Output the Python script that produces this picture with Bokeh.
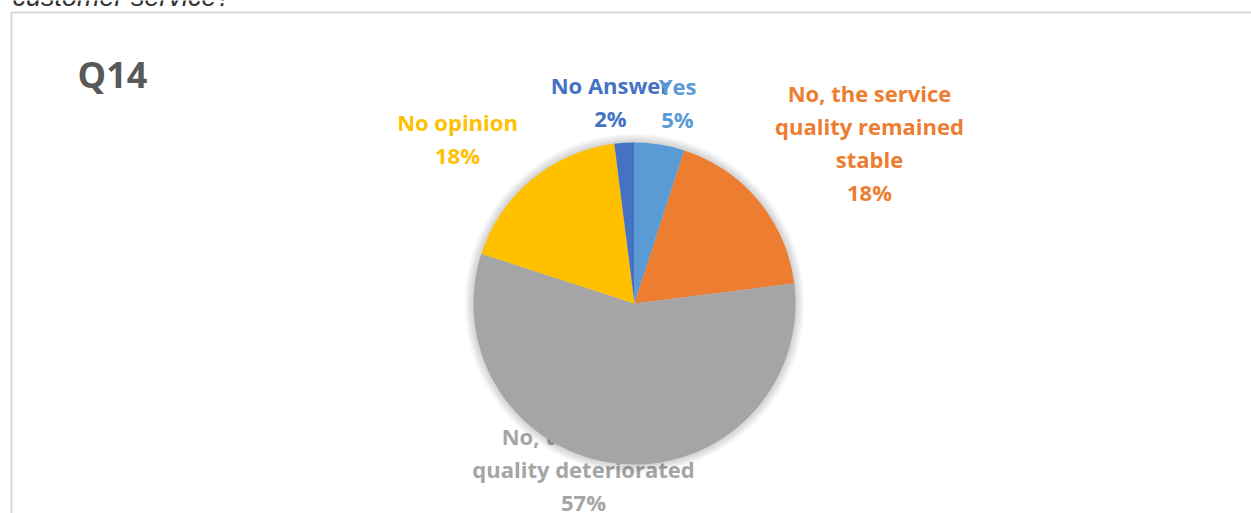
import math
from bokeh.plotting import figure
from bokeh.models import Range1d, ColumnDataSource
from bokeh.core.properties import value
from bokeh.embed import file_html
from bokeh.resources import INLINE

# ---- data ----
heading = "customer service?"
title = "Q14"
categories = ["Yes", "No, the service quality remained stable",
              "No, the service quality deteriorated", "No opinion", "No Answer"]
label_texts = ["Yes", "No, the service\nquality remained\nstable",
               "No, the service\nquality deteriorated", "No opinion", "No Answer"]
percents = [5, 18, 57, 18, 2]
colors = ["#5B9BD5", "#ED7D31", "#A5A5A5", "#FFC000", "#4472C4"]

# ---- layout (screen pixel coordinates) ----
W, H = 1251, 513
p = figure(width=W, height=H, x_range=Range1d(0, W), y_range=Range1d(-H, 0),
           output_backend="svg", toolbar_location=None, min_border=0)
p.axis.visible = False
p.grid.visible = False
p.outline_line_color = None
p.background_fill_color = "white"
p.border_fill_color = "white"

# clipped heading of the surrounding document
p.text(x=[12], y=[4], text=[heading], text_font=value("Liberation Sans"),
       text_font_style="italic", text_font_size="27px", text_color="#333333",
       text_baseline="alphabetic", text_align="left")

# chart border box
p.quad(left=[11], right=[1400], top=[-12], bottom=[-700], fill_color=None,
       line_color="#D9D9D9", line_width=2)

# title
p.text(x=[77], y=[-74], text=[title], text_font=value("Open Sans"), text_font_style="bold",
       text_font_size="36px", text_color="#595959", text_baseline="middle", text_align="left")

cx, cy, r = 634, -303, 161

# labels (centres of each block, screen coordinates)
lab_x = [677, 869, 583, 457, 610]
lab_y = [-102, -142, -468.5, -138, -101]
texts = [f"{t}\n{v}%" for t, v in zip(label_texts, percents)]

def draw_label(i):
    p.text(x=[lab_x[i]], y=[lab_y[i]], text=[texts[i]], text_font=value("Open Sans"),
           text_font_style="bold", text_font_size="22px", text_color=colors[i],
           text_align="center", text_baseline="middle", text_line_height=1.09)

# gray label sits under the pie
draw_label(2)

# soft shadow
for k in range(1, 10):
    p.circle(x=[cx], y=[cy], radius=r + k, fill_color="black", fill_alpha=0.018,
             line_color=None)

# pie
total = float(sum(percents))
cum = [0.0]
for v in percents:
    cum.append(cum[-1] + v / total)
start = [math.pi / 2 - 2 * math.pi * c for c in cum[:-1]]
end = [math.pi / 2 - 2 * math.pi * c for c in cum[1:]]
src = ColumnDataSource(dict(start=start, end=end, color=colors, cat=categories))
p.wedge(x=cx, y=cy, radius=r, start_angle="start", end_angle="end", direction="clock",
        fill_color="color", line_color=None, source=src)

# other labels (No Answer first, Yes on top)
for i in [4, 0, 1, 3]:
    draw_label(i)

open("out.html", "w").write(file_html(p, INLINE))
